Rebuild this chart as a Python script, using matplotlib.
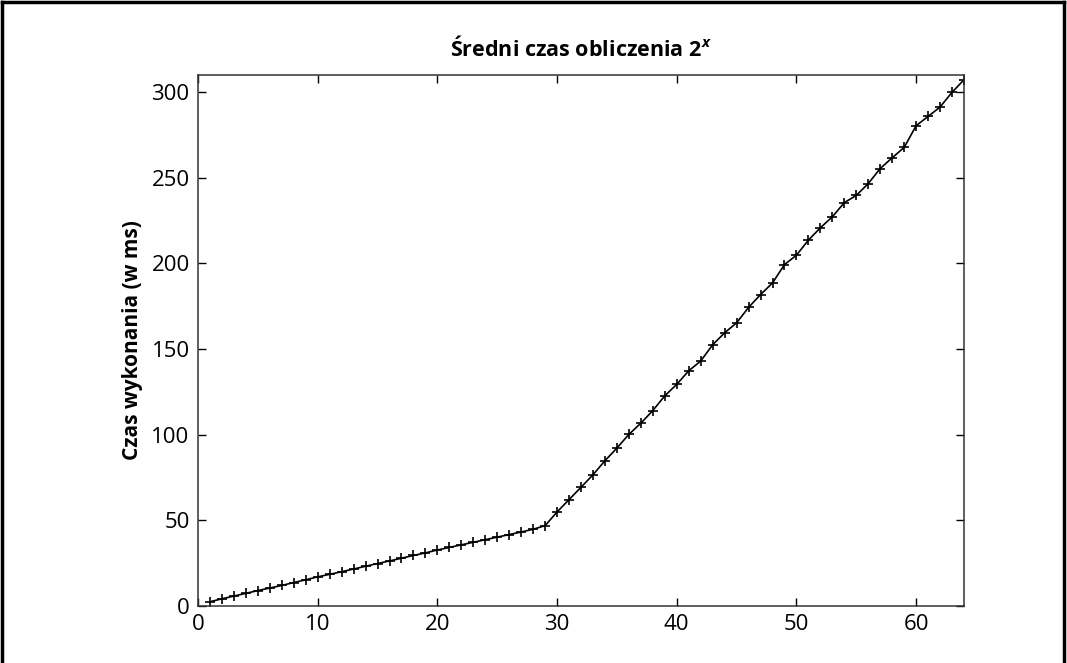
import numpy as np
import matplotlib.pyplot as plt
from matplotlib.lines import Line2D

# data
x_vals = list(range(1, 65))
czas = [2.5, 4.2, 5.8, 7.4, 9.0, 10.5, 12.0, 13.7, 15.3, 17.0,
        18.5, 20.0, 21.6, 23.2, 24.8, 26.3, 27.9, 29.5, 31.0, 32.7,
        34.2, 35.7, 37.2, 38.7, 40.2, 41.7, 43.2, 44.8, 46.9, 54.9,
        62.1, 69.3, 76.6, 84.8, 92.2, 100.2, 106.7, 114.1, 122.7, 129.4,
        137.3, 143.0, 152.5, 159.5, 165.3, 174.3, 181.8, 188.6, 199.3, 204.8,
        213.6, 220.8, 227.2, 235.5, 239.7, 246.6, 255.4, 261.7, 267.7, 280.4,
        285.8, 291.3, 299.9, 307.2]

title = 'Średni czas obliczenia 2$^{\\mathit{x}}$'
ylabel = 'Czas wykonania (w ms)'

plt.rcParams['font.family'] = ['Open Sans', 'DejaVu Sans']
plt.rcParams['mathtext.fontset'] = 'custom'
plt.rcParams['mathtext.it'] = 'Open Sans:italic:bold'
plt.rcParams['mathtext.rm'] = 'Open Sans:bold'

fig = plt.figure(figsize=(10.67, 6.63), dpi=100)
ax = fig.add_axes([198 / 1067, 1 - 606 / 663, (964 - 198) / 1067, (606 - 75) / 663])

ax.plot(x_vals, czas, color='black', linewidth=1.2, marker='+',
        markersize=7, markeredgewidth=1.2)

ax.set_xlim(0, 64)
ax.set_ylim(0, 310)
ax.set_xticks([0, 10, 20, 30, 40, 50, 60])
ax.set_yticks([0, 50, 100, 150, 200, 250, 300])
ax.tick_params(direction='in', top=True, right=True, length=6, width=1,
               labelsize=16, colors='black', pad=6)
for s in ax.spines.values():
    s.set_linewidth(1.1)
    s.set_color('#333333')

ax.set_title(title, fontsize=15.5, fontweight='bold', pad=14)
ax.set_ylabel(ylabel, fontsize=15, fontweight='bold', labelpad=6)

# outer frame (bottom edge cut off)
lw = 2.5
fig.add_artist(Line2D([0.002, 0.002], [0, 0.997], transform=fig.transFigure, color='black', linewidth=lw))
fig.add_artist(Line2D([0.002, 0.997], [0.997, 0.997], transform=fig.transFigure, color='black', linewidth=lw))
fig.add_artist(Line2D([0.997, 0.997], [0, 0.997], transform=fig.transFigure, color='black', linewidth=lw))

fig.savefig('out.png', dpi=100)
